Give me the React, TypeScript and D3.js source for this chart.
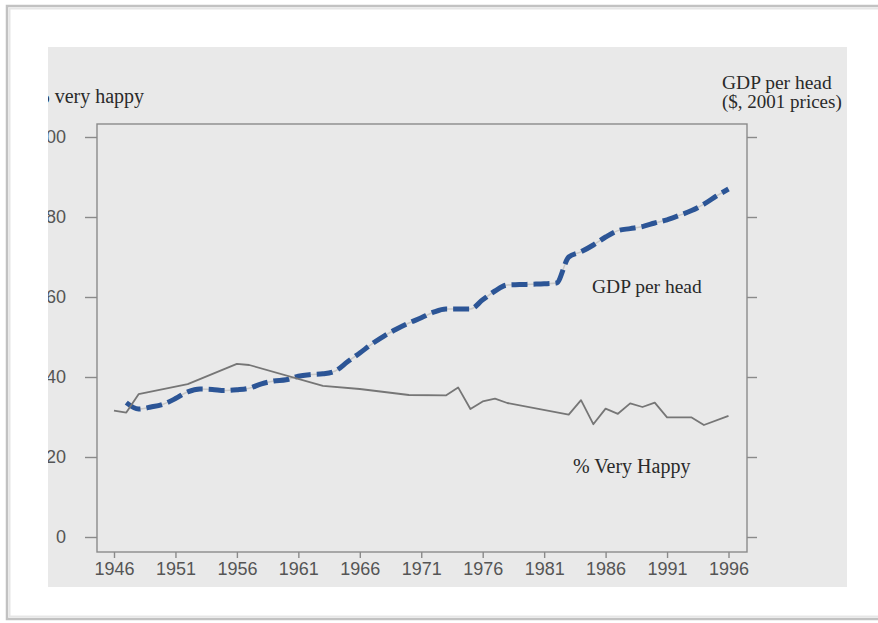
import React, { useEffect, useRef } from 'react';
import * as d3 from 'd3';

// % very happy (left axis)
const happyYears = [1946, 1947, 1948, 1952, 1956, 1957, 1963, 1966, 1970, 1973, 1974, 1975, 1976, 1977, 1978, 1983, 1984, 1985, 1986, 1987, 1988, 1989, 1990, 1991, 1993, 1994, 1996];
const happyValues = [31.6, 31.1, 35.7, 38.2, 43.3, 43.0, 37.8, 37.0, 35.5, 35.4, 37.4, 32.0, 33.9, 34.6, 33.5, 30.6, 34.2, 28.2, 32.1, 30.8, 33.4, 32.5, 33.6, 29.9, 29.9, 28.0, 30.3];

// GDP per head (right axis, unlabelled, read on the same grid)
const gdpYears = d3.range(1947, 1997);
const gdpValues = [
  33.6, 32.0, 32.5, 33.2, 34.6, 36.3, 37.0, 36.9, 36.6, 36.8,
  37.2, 38.3, 39.0, 39.3, 40.2, 40.6, 40.8, 41.5, 43.8, 46.0,
  48.3, 50.3, 52.0, 53.5, 54.8, 56.2, 57.0, 57.0, 57.0, 59.3,
  61.5, 63.0, 63.1, 63.2, 63.3, 63.5, 70.0, 71.3, 73.0, 75.0,
  76.6, 77.1, 77.6, 78.5, 79.3, 80.4, 81.6, 83.2, 85.2, 87.0,
];

const xTicks = [1946, 1951, 1956, 1961, 1966, 1971, 1976, 1981, 1986, 1991, 1996];
const yTicks = [0, 20, 40, 60, 80, 100];

export default function App() {
  const ref = useRef<SVGSVGElement>(null);

  useEffect(() => {
    if (!ref.current) return;
    const svg = d3.select(ref.current);
    svg.selectAll('*').remove();

    const width = 878;
    const height = 623;
    const box = { left: 97, right: 747, top: 124, bottom: 552 };
    const panel = { x: 48, y: 47, w: 799, h: 540 };

    svg.attr('width', width).attr('height', height);

    // page + scan frame
    svg.append('rect').attr('width', width).attr('height', height).attr('fill', '#ffffff');
    svg.append('rect')
      .attr('x', 7).attr('y', 6).attr('width', 900).attr('height', 613)
      .attr('fill', 'none').attr('stroke', '#c2c2c2').attr('stroke-width', 2.5);
    svg.append('rect')
      .attr('x', 9.5).attr('y', 8.5).attr('width', 900).attr('height', 608)
      .attr('fill', 'none').attr('stroke', '#e6e6e6').attr('stroke-width', 2);

    svg.append('defs').append('clipPath').attr('id', 'panel-clip')
      .append('rect').attr('x', panel.x).attr('y', panel.y).attr('width', panel.w).attr('height', panel.h);

    const g = svg.append('g').attr('clip-path', 'url(#panel-clip)');
    g.append('rect')
      .attr('x', panel.x).attr('y', panel.y).attr('width', panel.w).attr('height', panel.h)
      .attr('fill', '#e9e9e9');

    const x = d3.scaleLinear().domain([1946, 1996]).range([114, 728.5]);
    const y = d3.scaleLinear().domain([0, 100]).range([537, 137]);

    // plot box
    g.append('rect')
      .attr('x', box.left).attr('y', box.top)
      .attr('width', box.right - box.left).attr('height', box.bottom - box.top)
      .attr('fill', 'none').attr('stroke', '#8a8a8a').attr('stroke-width', 1.4);

    const axisStyle = (sel: any) => {
      sel.select('.domain').remove();
      sel.selectAll('line').attr('stroke', '#8a8a8a').attr('stroke-width', 1.4);
      sel.selectAll('text')
        .attr('fill', '#555')
        .attr('font-family', 'Liberation Sans, Arial, sans-serif')
        .attr('font-size', 18);
    };

    // left axis
    g.append('g')
      .attr('transform', `translate(${box.left},0)`)
      .call(d3.axisLeft(y).tickValues(yTicks).tickSize(12).tickPadding(19).tickFormat(d3.format('d')))
      .call(axisStyle);

    // right axis, ticks only
    g.append('g')
      .attr('transform', `translate(${box.right},0)`)
      .call(d3.axisRight(y).tickValues(yTicks).tickSize(10).tickFormat(() => ''))
      .call(axisStyle);

    // bottom axis
    g.append('g')
      .attr('transform', `translate(0,${box.bottom})`)
      .call(d3.axisBottom(x).tickValues(xTicks).tickSize(6).tickPadding(4).tickFormat(d3.format('d')))
      .call(axisStyle);

    // GDP line (faint original + blue dashed trace)
    const gdpData = gdpYears.map((yr, i) => ({ yr, v: gdpValues[i] }));
    const gdpLine = d3.line<{ yr: number; v: number }>()
      .x(d => x(d.yr)).y(d => y(d.v))
      .curve(d3.curveMonotoneX);
    g.append('path')
      .datum(gdpData)
      .attr('d', gdpLine)
      .attr('fill', 'none')
      .attr('stroke', '#c9c9c9')
      .attr('stroke-width', 1.5);
    g.append('path')
      .datum(gdpData)
      .attr('d', gdpLine)
      .attr('fill', 'none')
      .attr('stroke', '#2c5596')
      .attr('stroke-width', 5)
      .attr('stroke-dasharray', '16 6')
      .attr('stroke-linejoin', 'round');

    // % very happy line
    const happyData = happyYears.map((yr, i) => ({ yr, v: happyValues[i] }));
    g.append('path')
      .datum(happyData)
      .attr('d', d3.line<{ yr: number; v: number }>().x(d => x(d.yr)).y(d => y(d.v)))
      .attr('fill', 'none')
      .attr('stroke', '#767676')
      .attr('stroke-width', 1.8)
      .attr('stroke-linejoin', 'round');

    // labels
    const serif = 'Liberation Serif, Times New Roman, serif';
    const label = (tx: number, ty: number, s: string, size: number) =>
      g.append('text')
        .attr('x', tx).attr('y', ty)
        .attr('font-family', serif).attr('font-size', size)
        .attr('fill', '#2a2a2a')
        .text(s);

    label(33, 103, '% very happy', 20);
    label(722, 89, 'GDP per head', 19.5);
    label(722, 108, '($, 2001 prices)', 19);
    label(592, 293, 'GDP per head', 19.5);
    label(573, 473, '% Very Happy', 20);
  }, []);

  return <svg ref={ref} style={{ position: 'absolute', left: 0, top: 0 }} />;
}
